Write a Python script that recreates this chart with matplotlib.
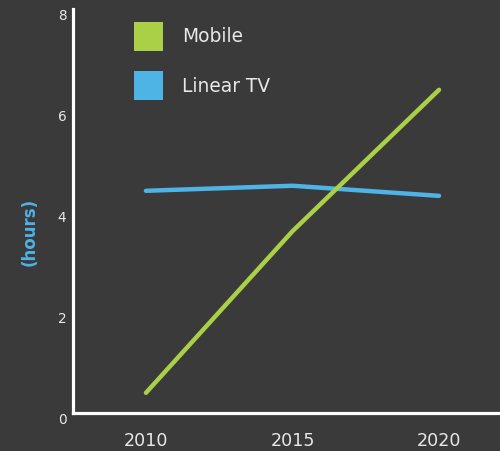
import matplotlib
matplotlib.use("Agg")
import matplotlib.pyplot as plt
from matplotlib.patches import Patch
from matplotlib.transforms import ScaledTranslation

years = [2010, 2015, 2020]
mobile = [0.4, 3.6, 6.4]
linear_tv = [4.4, 4.5, 4.3]
series_names = ["Mobile", "Linear TV"]
yticks = [0, 2, 4, 6, 8]

BG = "#3a3a3a"
GREEN = "#a9d046"
BLUE = "#4eb3e5"
TXT = "#e8e8e8"

fig = plt.figure(figsize=(5.0, 4.51), dpi=100, facecolor=BG)
ax = fig.add_axes([73.3 / 500, 1 - 413 / 451, 1 - 73.3 / 500, (413 - 9) / 451])
ax.set_facecolor(BG)

ax.plot(years, mobile, color=GREEN, lw=3.2, solid_capstyle="round", zorder=3)
ax.plot(years, linear_tv, color=BLUE, lw=3.2, solid_capstyle="round", zorder=2)

ax.set_xlim(2007.52, 2022.08)
ax.set_ylim(0, 8)
ax.set_xticks(years)
ax.set_xticklabels([str(y) for y in years])
ax.set_yticks(yticks)
ax.set_yticklabels([str(v) for v in yticks])

for s in ["top", "right"]:
    ax.spines[s].set_visible(False)
for s in ["left", "bottom"]:
    ax.spines[s].set_color("white")
    ax.spines[s].set_linewidth(2.3)

ax.tick_params(axis="x", length=0, pad=13.5, labelsize=12.6, labelcolor=TXT)
ax.tick_params(axis="y", length=0, pad=5, labelsize=9.8, labelcolor=TXT)

off = ScaledTranslation(0, -5.5 / 100, fig.dpi_scale_trans)
for lab in ax.get_yticklabels():
    lab.set_transform(lab.get_transform() + off)

ax.set_ylabel("(hours)", color=BLUE, fontsize=12, fontweight="bold", va="center")
ax.yaxis.set_label_coords((30 - 73.3) / 426.7, (413 - 232) / 404)

handles = [Patch(facecolor=GREEN, edgecolor="none"), Patch(facecolor=BLUE, edgecolor="none")]
leg = ax.legend(handles, series_names, loc="upper left",
                bbox_to_anchor=(134 / 500, 1 - 22 / 451), bbox_transform=fig.transFigure,
                frameon=False, fontsize=13.4, handlelength=1.56, handleheight=2.02,
                handletextpad=1.0, labelspacing=1.1, borderpad=0, borderaxespad=0)
for t in leg.get_texts():
    t.set_color(TXT)

fig.savefig("out.png", dpi=100, facecolor=BG)
